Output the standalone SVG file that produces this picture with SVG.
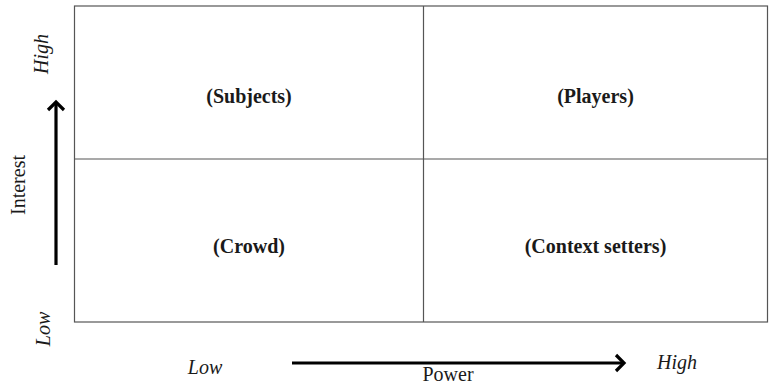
<svg xmlns="http://www.w3.org/2000/svg" width="773" height="385" viewBox="0 0 773 385">
<defs>
<style>
.grid{fill:none;stroke:#555;stroke-width:1.2}
.lbl{font-family:"Liberation Serif",serif;font-weight:bold;font-size:20px;fill:#1a1a1a;text-anchor:middle}
.ax{font-family:"Liberation Serif",serif;font-style:italic;font-size:20px;fill:#1a1a1a;text-anchor:middle}
.axn{font-family:"Liberation Serif",serif;font-size:20px;fill:#1a1a1a;text-anchor:middle}
.arr{fill:none;stroke:#000;stroke-width:3.2}
.head{fill:none;stroke:#000;stroke-width:3.2;stroke-linejoin:miter}
</style>
</defs>
<rect width="773" height="385" fill="#fff"/>
<g id="grid">
<rect class="grid" x="74.5" y="6" width="693" height="316"/>
<line class="grid" x1="423.5" y1="6" x2="423.5" y2="322"/>
<line class="grid" x1="74.5" y1="159" x2="767.5" y2="159"/>
</g>
<g id="subjects"><text class="lbl" x="249" y="103">(Subjects)</text></g>
<g id="players"><text class="lbl" x="595.5" y="103">(Players)</text></g>
<g id="crowd"><text class="lbl" x="249" y="253">(Crowd)</text></g>
<g id="context-setters"><text class="lbl" x="595.5" y="253">(Context setters)</text></g>
<g id="connectors">
<line class="arr" x1="56" y1="265" x2="56" y2="103"/>
<polyline class="head" points="48,110 56,102 64,110"/>
<line class="arr" x1="292" y1="363" x2="623" y2="363"/>
<polyline class="head" points="616,355 624,363 616,371"/>
</g>
<g id="axis-labels">
<text class="ax" transform="translate(48,54) rotate(-90)">High</text>
<text class="ax" transform="translate(50,329) rotate(-90)">Low</text>
<text class="axn" transform="translate(25,185) rotate(-90)">Interest</text>
<text class="ax" x="205" y="374">Low</text>
<text class="ax" x="677" y="369">High</text>
<text class="axn" x="448" y="381">Power</text>
</g>
</svg>
